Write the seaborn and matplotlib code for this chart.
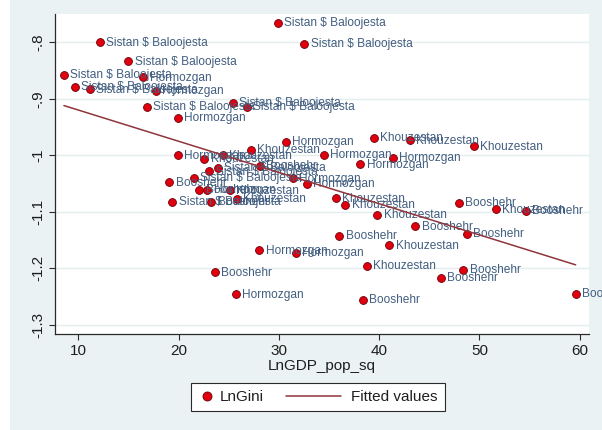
import numpy as np
import pandas as pd
import seaborn as sns
import matplotlib.pyplot as plt
from matplotlib.lines import Line2D
from matplotlib.patches import Rectangle
from matplotlib.legend_handler import HandlerLine2D

# Province-year observations: squared log GDP per capita vs. log Gini
province = [
    "Sistan $ Baloojesta", "Sistan $ Baloojesta", "Sistan $ Baloojesta", "Sistan $ Baloojesta",
    "Sistan $ Baloojesta", "Hormozgan", "Sistan $ Baloojesta", "Sistan $ Baloojesta",
    "Hormozgan", "Sistan $ Baloojesta", "Sistan $ Baloojesta", "Sistan $ Baloojesta",
    "Hormozgan", "Hormozgan", "Khouzestan", "Hormozgan",
    "Khouzestan", "Khouzestan", "Booshehr", "Sistan $ Baloojesta",
    "Sistan $ Baloojesta", "Sistan $ Baloojesta", "Hormozgan", "Hormozgan",
    "Booshehr", "Booshehr", "Hormozgan", "Khouzestan",
    "Sistan $ Baloojesta", "Booshehr", "Khouzestan", "Hormozgan",
    "Hormozgan", "Booshehr", "Hormozgan", "Khouzestan",
    "Khouzestan", "Khouzestan", "Hormozgan", "Hormozgan",
    "Hormozgan", "Khouzestan", "Khouzestan", "Khouzestan",
    "Booshehr", "Khouzestan", "Booshehr", "Booshehr",
    "Booshehr", "Booshehr", "Khouzestan", "Khouzestan",
    "Booshehr", "Booshehr", "Booshehr", "Booshehr",
]
ln_gdp_pop_sq = [
    29.88, 12.16, 32.53, 14.99, 8.57, 16.48, 9.67, 11.17,
    17.75, 25.39, 26.79, 16.85, 19.94, 30.68, 27.19, 19.94,
    24.40, 22.56, 28.12, 23.90, 23.06, 21.54, 31.41, 32.80,
    19.07, 22.05, 22.88, 25.12, 19.39, 23.28, 25.79, 28.05,
    31.66, 23.63, 25.69, 39.48, 43.05, 49.42, 34.50, 41.33,
    38.12, 35.69, 36.62, 39.83, 47.96, 51.64, 54.61, 43.59,
    48.75, 36.02, 41.01, 38.75, 48.38, 46.13, 38.38, 59.59,
]
ln_gini = [
    -0.765, -0.800, -0.8025, -0.8336, -0.8579, -0.8619, -0.8791, -0.8832,
    -0.8862, -0.9069, -0.9145, -0.9140, -0.9335, -0.9765, -0.9901, -1.0000,
    -1.0000, -1.0065, -1.0184, -1.0225, -1.0283, -1.0393, -1.0405, -1.0504,
    -1.0481, -1.0609, -1.0609, -1.0618, -1.0818, -1.0827, -1.0773, -1.1685,
    -1.1724, -1.2074, -1.2458, -0.9688, -0.9733, -0.9841, -0.9991, -1.0039,
    -1.0159, -1.0759, -1.0876, -1.1048, -1.0839, -1.0954, -1.0981, -1.1260,
    -1.1388, -1.1425, -1.1596, -1.1959, -1.2025, -1.2166, -1.2561, -1.2455,
]

x_ticks = [10, 20, 30, 40, 50, 60]
y_ticks = [-1.3, -1.2, -1.1, -1.0, -0.9, -0.8]
y_tick_labels = ["-1.3", "-1.2", "-1.1", "-1", "-.9", "-.8"]

df = pd.DataFrame({"province": province, "LnGDP_pop_sq": ln_gdp_pop_sq, "LnGini": ln_gini})

# Linear fit of LnGini on LnGDP_pop_sq
slope, intercept = np.polyfit(df["LnGDP_pop_sq"], df["LnGini"], 1)
fit_x = np.array([df["LnGDP_pop_sq"].min(), df["LnGDP_pop_sq"].max()])
fit_df = pd.DataFrame({"x": fit_x, "y": intercept + slope * fit_x})

sns.set_theme(style="white")
plt.rcParams["font.family"] = ["Liberation Sans", "DejaVu Sans"]

BG = "#EAF2F3"
MARKER_FACE = "#E0000E"
MARKER_EDGE = "#6A0008"
LABEL_COLOR = "#425E80"
FIT_COLOR = "#90353B"
AXIS_COLOR = "#2A2A2A"

fig = plt.figure(figsize=(6.02, 4.30), dpi=100, facecolor=BG)
fig.patches.append(Rectangle((0, 0), 10 / 602, 1, transform=fig.transFigure,
                             facecolor="white", edgecolor="none", zorder=-1))

W, H = 602, 430
ax = fig.add_axes([55 / W, (H - 334) / H, (589 - 55) / W, (334 - 14) / H])
ax.set_facecolor("white")

sns.scatterplot(data=df, x="LnGDP_pop_sq", y="LnGini", ax=ax, color=MARKER_FACE,
                edgecolor=MARKER_EDGE, linewidth=0.6, s=32, zorder=3, legend=False)

for name, xv, yv in zip(df["province"], df["LnGDP_pop_sq"], df["LnGini"]):
    ax.annotate(name, (xv, yv), xytext=(4.6, -0.3), textcoords="offset points",
                ha="left", va="center", fontsize=8.6, color=LABEL_COLOR, zorder=4)

sns.lineplot(data=fit_df, x="x", y="y", ax=ax, color=FIT_COLOR, linewidth=1.1, zorder=5)

ax.set_xlim(7.68, 60.92)
ax.set_ylim(-1.3163, -0.7499)
ax.set_xticks(x_ticks)
ax.set_xticklabels([str(t) for t in x_ticks])
ax.set_yticks(y_ticks)
ax.set_yticklabels(y_tick_labels, rotation=90, va="center")

ax.grid(axis="y", color="#E4EDEF", linewidth=1.0)
ax.grid(axis="x", visible=False)
ax.set_axisbelow(True)

for side in ("top", "right"):
    ax.spines[side].set_visible(False)
for side in ("left", "bottom"):
    ax.spines[side].set_color(AXIS_COLOR)
    ax.spines[side].set_linewidth(0.9)

ax.tick_params(axis="both", direction="out", length=4, width=0.8, color=AXIS_COLOR,
               labelsize=11, labelcolor="#1E1E1E", pad=3, left=True, bottom=True)

ax.set_xlabel("LnGDP_pop_sq", fontsize=11, color="#1E1E1E", labelpad=1)
ax.set_ylabel("")

MARKER_BOX = 13.0   # width (pt) of the handle slot for the marker key
LINE_BOX = 45.0     # width (pt) of the handle slot for the line key


class CompactMarker(HandlerLine2D):
    """Draws a single marker centred in a narrow handle slot."""
    def get_xdata(self, legend, xdescent, ydescent, width, height, fontsize):
        c = -xdescent + MARKER_BOX / 2
        return [c - 0.5, c + 0.5], [c]


dot = Line2D([], [], marker="o", linestyle="none", markerfacecolor=MARKER_FACE,
             markeredgecolor=MARKER_EDGE, markeredgewidth=0.6, markersize=6.5)
fit_line = Line2D([], [], color=FIT_COLOR, linewidth=1.1)

leg = fig.legend([dot, fit_line], ["LnGini", "Fitted values"], loc="center",
                 bbox_to_anchor=(318 / W, 1 - 397 / H), ncol=2, frameon=True,
                 fancybox=False, edgecolor=AXIS_COLOR, facecolor="white", framealpha=1,
                 handlelength=3.6, handletextpad=0.2, columnspacing=1.45, borderpad=0.45,
                 fontsize=11, handler_map={dot: CompactMarker()})
leg.get_frame().set_linewidth(0.8)
for t in leg.get_texts():
    t.set_color("#1E1E1E")

# give each key its own slot width: a narrow one for the dot, a wider one for the line
slot_widths = [MARKER_BOX, LINE_BOX]
for column, slot in zip(leg._legend_handle_box.get_children(), slot_widths):
    for row in column.get_children():
        row.get_children()[0].width = slot

fig.savefig("out.png", dpi=100, facecolor=fig.get_facecolor())
